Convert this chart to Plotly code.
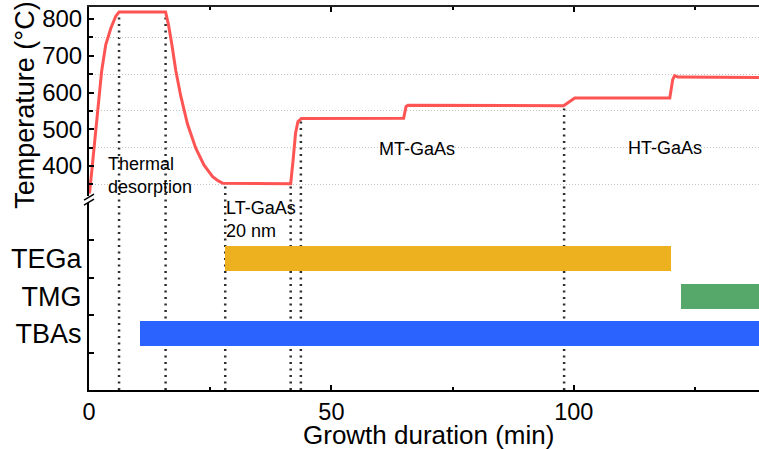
import numpy as np
import plotly.graph_objects as go

# Substrate temperature log during growth
time_min = [0.0, 0.14, 0.7, 1.24, 1.93, 2.6, 3.45, 4.5, 5.5, 6.2,
            15.8, 16.4, 17.1, 17.9, 18.9, 20.3, 22.0, 23.7, 25.5, 26.6, 27.6,
            41.6, 42.1, 42.6, 43.1, 43.8,
            64.9, 65.4, 65.8,
            97.9, 100.2,
            119.8, 120.4, 120.8, 121.5, 138.2]
temp_c = [325, 330, 403, 476, 566, 657, 730, 775, 807, 819,
          819, 784, 730, 660, 592, 515, 449, 403, 371, 360, 353,
          352, 416, 489, 521, 529,
          530, 562, 565,
          564, 585,
          585, 635, 646, 642, 641]

# Process step boundaries (min)
step_times = [6.2, 15.8, 28.1, 41.6, 43.7, 98.0]

# Precursor supply windows
sources = ["TEGa", "TMG", "TBAs"]
src_start = [28.0, 122.2, 10.5]
src_end = [120.0, 140.0, 140.0]
src_colors = ["#EDB120", "#56A86A", "#2B63FF"]

x_range = [0, 138.2]
t_range = [318.3, 832.7]
t_domain = [0.5065, 1.0]
src_domain = [0.0, 0.488]

FONT = "Liberation Sans, Arial, Helvetica, sans-serif"

fig = go.Figure()
fig.add_trace(go.Scatter(
    x=time_min, y=temp_c, mode="lines",
    line=dict(color="#FF5454", width=3),
    xaxis="x2", yaxis="y2", showlegend=False, hoverinfo="skip",
))
fig.add_trace(go.Bar(
    y=sources, x=[e - s for s, e in zip(src_start, src_end)], base=src_start,
    orientation="h", width=0.665,
    marker=dict(color=src_colors, line=dict(width=0)),
    xaxis="x", yaxis="y", showlegend=False, hoverinfo="skip",
))

# Dotted markers from the temperature curve down to the time axis
def t_to_paper(t):
    frac = (t - t_range[0]) / (t_range[1] - t_range[0])
    return t_domain[0] + frac * (t_domain[1] - t_domain[0])

step_temps = np.interp(step_times, time_min, temp_c)
shapes = []
for st, sT in zip(step_times, step_temps):
    shapes.append(dict(
        type="line", xref="x", yref="paper",
        x0=st, x1=st, y0=0, y1=t_to_paper(sT),
        line=dict(color="#2e2e2e", width=2.5, dash="2px,4.5px"), layer="below",
    ))

# Axis break marks
gap_mid = (t_domain[0] + src_domain[1]) / 2
for dy in (2.5, -2.5):
    shapes.append(dict(
        type="line", xref="paper", yref="paper",
        xsizemode="pixel", ysizemode="pixel", xanchor=0, yanchor=gap_mid,
        x0=-5, x1=5, y0=dy - 3, y1=dy + 3,
        line=dict(color="black", width=1.5),
    ))

label_font = dict(size=18, color="black", family=FONT)
annotations = [
    dict(text="Thermal<br>desorption", x=3.6, y=438, xref="x2", yref="y2",
         xanchor="left", yanchor="top", align="left", showarrow=False,
         font=label_font),
    dict(text="LT-GaAs<br>20 nm", x=27.9, y=0.506, xref="x", yref="paper",
         xanchor="left", yanchor="top", align="left", showarrow=False,
         font=label_font),
    dict(text="MT-GaAs", x=67.7, y=447, xref="x2", yref="y2",
         xanchor="center", yanchor="middle", showarrow=False,
         font=label_font),
    dict(text="HT-GaAs", x=118.8, y=450, xref="x2", yref="y2",
         xanchor="center", yanchor="middle", showarrow=False,
         font=label_font),
    dict(text="Temperature (°C)", textangle=-90, x=-0.096, y=0.744,
         xref="paper", yref="paper", xanchor="center", yanchor="middle",
         showarrow=False, font=dict(size=27, color="black", family=FONT)),
    dict(text="Growth duration (min)", x=0.506, y=-0.158, borderpad=0,
         xref="paper", yref="paper", xanchor="center", yanchor="bottom",
         showarrow=False, font=dict(size=26, color="black", family=FONT)),
]

tick_common = dict(ticks="inside", ticklen=5, tickwidth=2, tickcolor="black",
                   showline=True, linecolor="black", linewidth=2,
                   zeroline=False, showgrid=False,
                   tickfont=dict(size=24, color="black", family=FONT))

fig.update_layout(
    width=759, height=449,
    margin=dict(l=89, r=0, t=7, b=59),
    paper_bgcolor="white", plot_bgcolor="white",
    font=dict(family=FONT, color="black"),
    bargap=0,
    xaxis=dict(domain=[0, 1], range=x_range, anchor="y", dtick=50, tick0=0,
               minor=dict(dtick=25, ticks="inside", ticklen=3, tickwidth=1.5,
                          tickcolor="black"),
               **{**tick_common, "tickfont": dict(size=23.5, color="black", family=FONT)}),
    xaxis2=dict(domain=[0, 1], matches="x", anchor="y2", side="top",
                dtick=50, tick0=0, showticklabels=False,
                minor=dict(dtick=25, ticks="inside", ticklen=3, tickwidth=1.5,
                           tickcolor="black"),
                **{**tick_common, "linecolor": "#222222"}),
    yaxis=dict(domain=src_domain, type="category", categoryorder="array",
               categoryarray=["TBAs", "TMG", "TEGa"], range=[-1.49, 3.48],
               tickson="boundaries", anchor="x",
               **{**tick_common, "tickfont": dict(size=27, color="black", family=FONT)}),
    yaxis2=dict(domain=t_domain, range=t_range, dtick=100, tick0=0, anchor="x2",
                minor=dict(dtick=50, ticks="inside", ticklen=4, tickwidth=1.5,
                           tickcolor="black", showgrid=True, gridcolor="#c4c4c4",
                           griddash="1px,2px", gridwidth=1),
                **tick_common),
    shapes=shapes,
    annotations=annotations,
)

fig.write_html("out.html")
